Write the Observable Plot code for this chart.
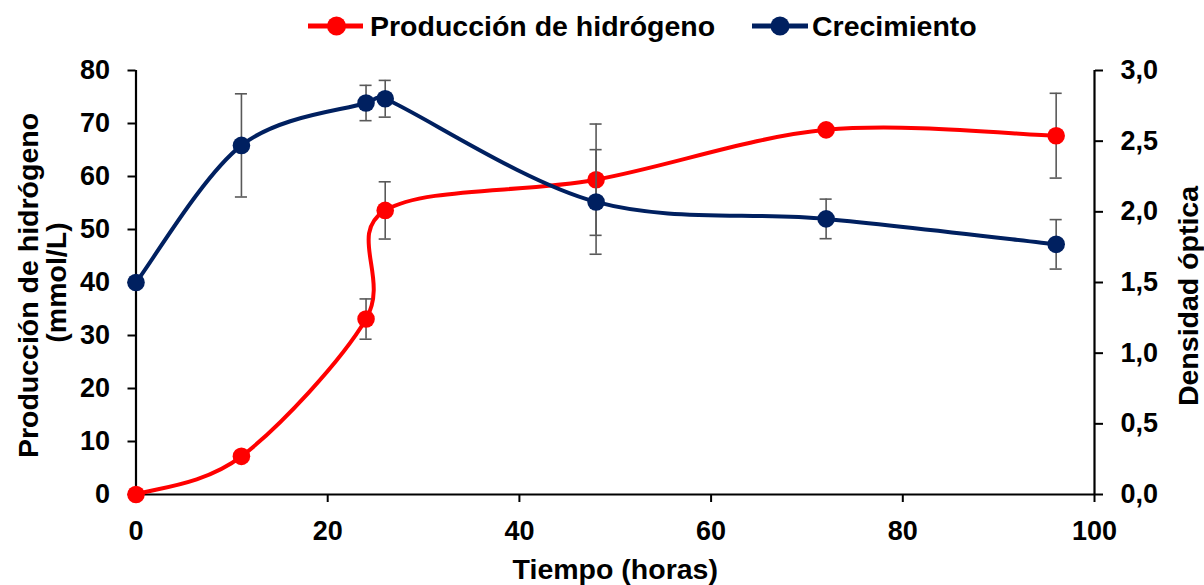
<!DOCTYPE html>
<html>
<head>
<meta charset="utf-8">
<script src="https://cdn.jsdelivr.net/npm/d3@7"></script>
<script src="https://cdn.jsdelivr.net/npm/@observablehq/plot@0.6"></script>
<style>
  html, body { margin: 0; padding: 0; background: #fff; }
  body { font-family: "Liberation Sans", Arial, sans-serif; font-weight: bold; }
  #legend { display: block; width: 1204px; height: 50px; }
  #chart { width: 1204px; height: 535px; }
</style>
</head>
<body>
<svg id="legend" width="1204" height="50"></svg>
<div id="chart"></div>
<script>
// ---- data ----
const hours = [0, 11, 24, 26, 48, 72, 96];
const hydrogen = [0, 7.2, 33.1, 53.6, 59.4, 68.8, 67.7];        // mmol/L
const hydrogenErr = [0, 0, 3.8, 5.4, 10.5, 0, 8.0];
const growth = [1.50, 2.47, 2.77, 2.80, 2.07, 1.95, 1.77];      // densidad óptica
const growthErr = [0, 0.365, 0.125, 0.13, 0.37, 0.14, 0.175];

const seriesNames = ["Producción de hidrógeno", "Crecimiento"];
const seriesColors = ["#FF0000", "#002060"];

const xTicks = [0, 20, 40, 60, 80, 100];
const yLeftTicks = [0, 10, 20, 30, 40, 50, 60, 70, 80];
const yRightTicks = [0, 0.5, 1, 1.5, 2, 2.5, 3];

const xTitle = "Tiempo (horas)";
const yLeftTitle = ["Producción de hidrógeno", "(mmol/L)"];
const yRightTitle = "Densidad óptica";

// ---- helpers ----
const k = 80 / 3; // right axis (0–3) mapped onto left axis (0–80)
const red = hours.map((h, i) => ({h, v: hydrogen[i], e: hydrogenErr[i]}));
const blue = hours.map((h, i) => ({h, v: growth[i] * k, e: growthErr[i] * k}));
const capHalf = 0.63; // half cap width in x units
const withErr = (arr) => arr.filter(d => d.e > 0);
const caps = (arr) => withErr(arr).flatMap(d => [
  {x1: d.h - capHalf, x2: d.h + capHalf, y: d.v + d.e},
  {x1: d.h - capHalf, x2: d.h + capHalf, y: d.v - d.e}
]);
const errColor = "#595959";
const fmt = v => d3.format(".1f")(v).replace(".", ",");

// Spreadsheet-style smoothed line: cardinal Bézier whose control arms are
// limited to half of the segment length (avoids loops between close points).
function SmoothCurve(context) { this._context = context; }
SmoothCurve.prototype = {
  areaStart() {}, areaEnd() {},
  lineStart() { this._pts = []; },
  point(x, y) { this._pts.push([+x, +y]); },
  lineEnd() {
    const p = this._pts, n = p.length, c = this._context;
    if (!n) return;
    c.moveTo(p[0][0], p[0][1]);
    if (n === 2) { c.lineTo(p[1][0], p[1][1]); return; }
    for (let i = 0; i < n - 1; i++) {
      const p0 = p[Math.max(i - 1, 0)], p1 = p[i], p2 = p[i + 1], p3 = p[Math.min(i + 2, n - 1)];
      const d12 = Math.hypot(p2[0] - p1[0], p2[1] - p1[1]);
      let a = [(p2[0] - p0[0]) / 6, (p2[1] - p0[1]) / 6];
      let b = [(p3[0] - p1[0]) / 6, (p3[1] - p1[1]) / 6];
      const la = Math.hypot(a[0], a[1]), lb = Math.hypot(b[0], b[1]);
      if (la > d12 / 2) a = a.map(v => v * d12 / 2 / la);
      if (lb > d12 / 2) b = b.map(v => v * d12 / 2 / lb);
      c.bezierCurveTo(p1[0] + a[0], p1[1] + a[1], p2[0] - b[0], p2[1] - b[1], p2[0], p2[1]);
    }
  }
};
const curveSmooth = (ctx) => new SmoothCurve(ctx);

// ---- legend ----
const leg = d3.select("#legend");
const legItems = [
  {x1: 308, x2: 363, cx: 336.5, tx: 370},
  {x1: 752, x2: 808, cx: 780, tx: 812}
];
legItems.forEach((it, i) => {
  leg.append("line").attr("x1", it.x1).attr("x2", it.x2).attr("y1", 26).attr("y2", 26)
     .attr("stroke", seriesColors[i]).attr("stroke-width", 5);
  leg.append("circle").attr("cx", it.cx).attr("cy", 26).attr("r", 9.5).attr("fill", seriesColors[i]);
  leg.append("text").attr("x", it.tx).attr("y", 36)
     .attr("font-family", '"Liberation Sans", Arial, sans-serif')
     .attr("font-weight", "bold").attr("font-size", 28.5).attr("fill", "#000")
     .text(seriesNames[i]);
});

// ---- chart ----
const titleOpts = {text: d => d, fontSize: 28.5, fontWeight: "bold", textAnchor: "middle", lineAnchor: "middle"};
const chart = Plot.plot({
  width: 1204,
  height: 535,
  marginTop: 20,
  marginBottom: 91,
  marginLeft: 135.5,
  marginRight: 110,
  style: {fontFamily: '"Liberation Sans", Arial, sans-serif', fontWeight: "bold", fontSize: "27px", color: "#000", background: "#fff", overflow: "visible"},
  x: {domain: [0, 100]},
  y: {domain: [0, 80]},
  marks: [
    Plot.axisX({ticks: xTicks, tickSize: 8, tickPadding: 18, tickFormat: d => String(d), label: null, strokeWidth: 2, fontSize: 27}),
    Plot.axisY({anchor: "left", ticks: yLeftTicks, tickSize: 8, tickPadding: 18, tickFormat: d => String(d), label: null, strokeWidth: 2, fontSize: 27}),
    Plot.axisY({anchor: "right", ticks: yRightTicks.map(v => v * k), tickSize: 8, tickPadding: 18, tickFormat: d => fmt(d / k), label: null, strokeWidth: 2, fontSize: 27}),
    Plot.ruleY([0], {stroke: "#000", strokeWidth: 2.2}),
    Plot.ruleX([0], {stroke: "#000", strokeWidth: 2.2}),
    Plot.ruleX([100], {stroke: "#000", strokeWidth: 2.2}),

    // hydrogen series
    Plot.line(red, {x: "h", y: "v", curve: curveSmooth, stroke: seriesColors[0], strokeWidth: 4}),
    Plot.ruleX(withErr(red), {x: "h", y1: d => d.v - d.e, y2: d => d.v + d.e, stroke: errColor, strokeWidth: 1.6}),
    Plot.ruleY(caps(red), {y: "y", x1: "x1", x2: "x2", stroke: errColor, strokeWidth: 1.6}),
    Plot.dot(red, {x: "h", y: "v", r: 8.8, fill: seriesColors[0]}),

    // growth series
    Plot.line(blue, {x: "h", y: "v", curve: curveSmooth, stroke: seriesColors[1], strokeWidth: 4}),
    Plot.ruleX(withErr(blue), {x: "h", y1: d => d.v - d.e, y2: d => d.v + d.e, stroke: errColor, strokeWidth: 1.6}),
    Plot.ruleY(caps(blue), {y: "y", x1: "x1", x2: "x2", stroke: errColor, strokeWidth: 1.6}),
    Plot.dot(blue, {x: "h", y: "v", r: 8.8, fill: seriesColors[1]}),

    // titles
    Plot.text([xTitle], {...titleOpts, frameAnchor: "bottom", dy: 75}),
    Plot.text([yLeftTitle[0]], {...titleOpts, frameAnchor: "left", rotate: -90, dx: 28 - 135.5, dy: 3}),
    Plot.text([yLeftTitle[1]], {...titleOpts, frameAnchor: "left", rotate: -90, dx: 56 - 135.5, dy: 0}),
    Plot.text([yRightTitle], {...titleOpts, frameAnchor: "right", rotate: -90, dx: 94, dy: 13.5})
  ]
});
document.getElementById("chart").appendChild(chart);
</script>
</body>
</html>
